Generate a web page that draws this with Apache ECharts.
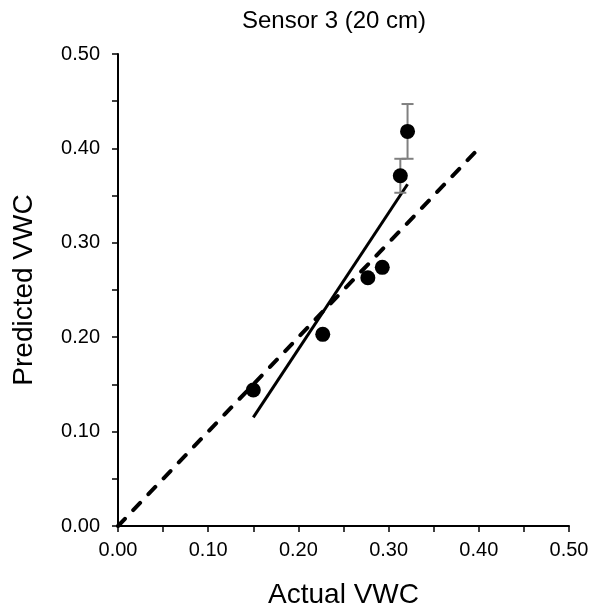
<!DOCTYPE html>
<html>
<head>
<meta charset="utf-8">
<script src="https://cdn.jsdelivr.net/npm/echarts@6/dist/echarts.min.js"></script>
<style>
html,body{margin:0;padding:0;background:#fff;}
#chart{width:597px;height:614px;}
</style>
</head>
<body>
<div id="chart"></div>
<script>
// Data
const actualVWC    = [0.150, 0.227, 0.277, 0.293, 0.313, 0.321];
const predictedVWC = [0.144, 0.203, 0.263, 0.274, 0.371, 0.418];
const predictedErr = [0, 0, 0, 0, 0.018, 0.029];
const trendX = [0.150, 0.321];
const trendY = [0.115, 0.362];
const oneToOneX = [0, 0.40];
const oneToOneY = [0, 0.40];
const titleText = 'Sensor 3 (20 cm)';
const xName = 'Actual VWC';
const yName = 'Predicted VWC';

const FONT = 'Liberation Sans, Arial, sans-serif';
const chart = echarts.init(document.getElementById('chart'), null, {renderer: 'canvas'});

const pts = actualVWC.map((x, i) => [x, predictedVWC[i]]);
const errData = actualVWC.map((x, i) => [x, predictedVWC[i], predictedErr[i]]);
const trendData = trendX.map((x, i) => [x, trendY[i]]);
const oneData = oneToOneX.map((x, i) => [x, oneToOneY[i]]);

function axisCommon() {
  return {
    type: 'value', min: 0, max: 0.5, interval: 0.1,
    axisLine: {show: true, onZero: false, lineStyle: {color: '#000', width: 2}},
    axisTick: {show: true, inside: false, length: 6, lineStyle: {color: '#000', width: 1.5}},
    minorTick: {show: true, splitNumber: 2, length: 6, lineStyle: {color: '#000', width: 1.5}},
    splitLine: {show: false},
    minorSplitLine: {show: false},
    axisLabel: {
      color: '#000', fontSize: 20, fontFamily: FONT,
      showMinLabel: true, showMaxLabel: true,
      formatter: v => v.toFixed(2)
    },
    nameLocation: 'middle',
    nameTextStyle: {color: '#000', fontSize: 28, fontFamily: FONT}
  };
}

const xAxis = axisCommon();
xAxis.name = xName;
xAxis.nameGap = 55;
xAxis.axisLabel.margin = 14;

const yAxis = axisCommon();
yAxis.name = yName;
yAxis.nameGap = 80;
yAxis.axisLabel.margin = 18;

chart.setOption({
  animation: false,
  backgroundColor: '#fff',
  title: {
    text: titleText, left: 334, top: 9, textAlign: 'center', padding: 0,
    textStyle: {color: '#000', fontSize: 24, fontWeight: 'normal', fontFamily: FONT}
  },
  grid: {left: 118, right: 28, top: 54, bottom: 83, containLabel: false},
  xAxis: xAxis,
  yAxis: yAxis,
  series: [
    {
      type: 'line', data: oneData, symbol: 'none', z: 2,
      lineStyle: {color: '#000', width: 4, type: [10, 12], cap: 'round'}
    },
    {
      type: 'line', data: trendData, symbol: 'none', z: 3,
      lineStyle: {color: '#000', width: 3}
    },
    {
      type: 'custom', data: errData, z: 4,
      renderItem: function (params, api) {
        const x = api.value(0), y = api.value(1), e = api.value(2);
        if (!e) return null;
        const top = api.coord([x, y + e]);
        const bot = api.coord([x, y - e]);
        const hw = 6;
        const st = {stroke: '#808080', lineWidth: 2};
        return {
          type: 'group',
          children: [
            {type: 'line', shape: {x1: top[0], y1: top[1], x2: bot[0], y2: bot[1]}, style: st},
            {type: 'line', shape: {x1: top[0] - hw, y1: top[1], x2: top[0] + hw, y2: top[1]}, style: st},
            {type: 'line', shape: {x1: bot[0] - hw, y1: bot[1], x2: bot[0] + hw, y2: bot[1]}, style: st}
          ]
        };
      }
    },
    {
      type: 'scatter', data: pts, symbol: 'circle', symbolSize: 15, z: 5,
      itemStyle: {color: '#000', opacity: 1}
    }
  ]
});
</script>
</body>
</html>
